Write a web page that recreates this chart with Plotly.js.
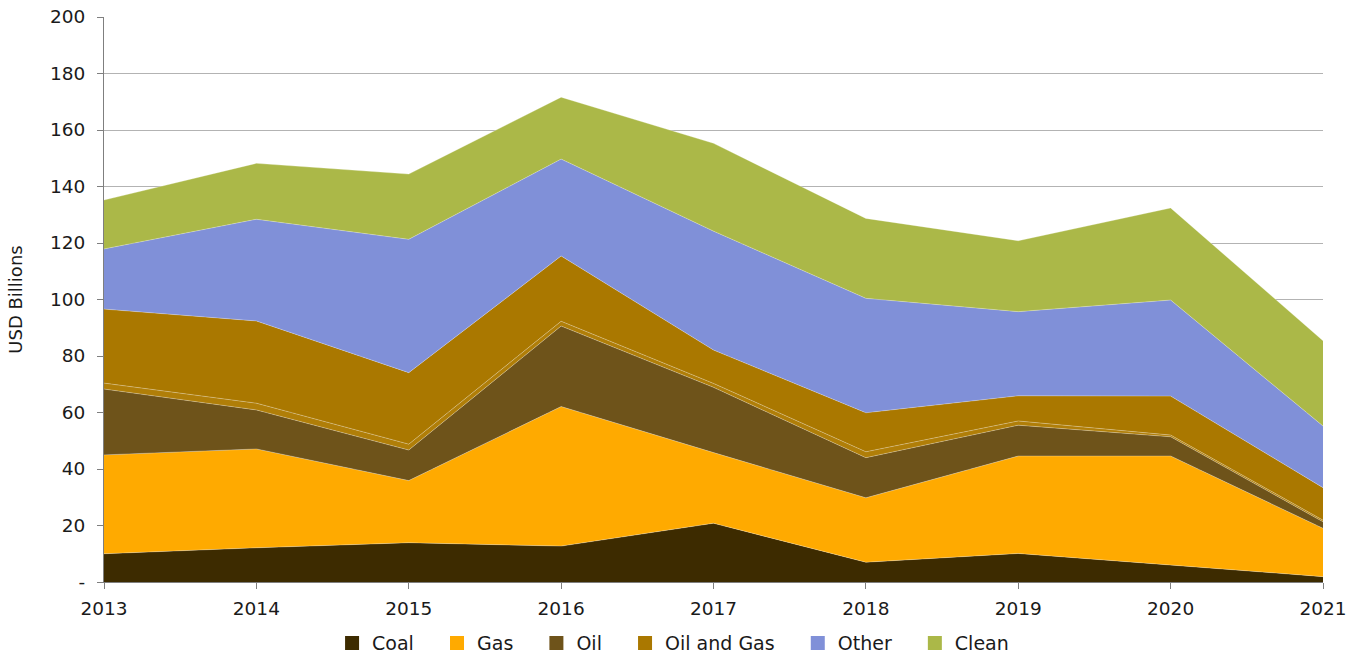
<!DOCTYPE html>
<html>
<head>
<meta charset="utf-8">
<script src="https://cdn.plot.ly/plotly-3.0.1.min.js"></script>
<style>html,body{margin:0;padding:0;background:#fff;}#chart{width:1357px;height:657px;}</style>
</head>
<body>
<div id="chart"></div>
<script>
const years = [2013, 2014, 2015, 2016, 2017, 2018, 2019, 2020, 2021];
const coal = [10.0, 12.1, 13.9, 12.7, 20.8, 7.0, 10.1, 6.0, 1.9];
const gas = [35.0, 35.0, 22.0, 49.4, 25.0, 22.8, 34.5, 38.6, 17.1];
const oil = [23.3, 13.8, 10.8, 28.5, 23.1, 14.2, 10.9, 6.8, 2.3];
const oilGasMinor = [2.1, 2.4, 2.1, 1.7, 1.4, 2.1, 1.5, 0.6, 0.6];
const oilAndGas = [26.2, 29.1, 25.3, 23.1, 11.8, 13.8, 8.9, 13.8, 11.5];
const other = [21.3, 36.0, 47.2, 34.3, 42.1, 40.5, 29.8, 34.0, 21.8];
const clean = [17.3, 19.8, 23.1, 21.9, 31.1, 28.3, 25.1, 32.6, 30.2];

const seriesNames = ['Coal', 'Gas', 'Oil', 'Oil and Gas', 'Other', 'Clean'];
const seriesColors = ['#3D2B00', '#FFAA00', '#6E531A', '#AA7800', '#8090D8', '#ABB848'];

const yTickVals = [0, 20, 40, 60, 80, 100, 120, 140, 160, 180, 200];
const yTickText = ['-', '20', '40', '60', '80', '100', '120', '140', '160', '180', '200'];

const edge = {width: 0.8, color: 'rgba(255,255,255,0.35)'};
function area(name, vals, color) {
  return {
    x: years, y: vals, name: name, type: 'scatter', mode: 'lines',
    stackgroup: 'one', fillcolor: color, line: edge,
    showlegend: false, hoverinfo: 'x+y+name'
  };
}
const traces = [
  area('Coal', coal, seriesColors[0]),
  area('Gas', gas, seriesColors[1]),
  area('Oil', oil, seriesColors[2]),
  area('Oil and Gas (minor)', oilGasMinor, '#B07E08'),
  area('Oil and Gas', oilAndGas, seriesColors[3]),
  area('Other', other, seriesColors[4]),
  area('Clean', clean, seriesColors[5])
];
// legend-only entries with square symbols (padding keeps the wide spacing)
const pad = '\u00a0\u00a0\u00a0';
seriesNames.forEach((n, i) => {
  traces.push({
    x: [null], y: [null], type: 'scatter', mode: 'markers',
    name: i < seriesNames.length - 1 ? n + pad : n,
    marker: {symbol: 'square', size: 14, color: seriesColors[i]},
    showlegend: true, hoverinfo: 'skip'
  });
});

const fam = '"DejaVu Sans", "Open Sans", sans-serif';
const layout = {
  width: 1357, height: 657,
  margin: {l: 104, r: 34, t: 17, b: 75},
  paper_bgcolor: '#fff', plot_bgcolor: '#fff',
  font: {family: fam, size: 18, color: '#1a1a1a'},
  xaxis: {
    range: [2013, 2021], tickvals: years, ticktext: years.map(String),
    showgrid: false, showline: true, linecolor: '#7f7f7f', linewidth: 1,
    ticks: 'outside', ticklen: 6, tickcolor: '#7f7f7f', zeroline: false,
    tickfont: {size: 18.5}, ticklabelstandoff: 4, automargin: false
  },
  yaxis: {
    range: [0, 200], tickvals: yTickVals, ticktext: yTickText,
    showgrid: true, gridcolor: '#b3b3b3', gridwidth: 1,
    showline: true, linecolor: '#7f7f7f', linewidth: 1,
    ticks: 'outside', ticklen: 6, tickcolor: '#7f7f7f', zeroline: false,
    tickfont: {size: 18.5}, ticklabelstandoff: 8, automargin: false,
    title: {text: 'USD Billions', font: {size: 18}, standoff: 22}
  },
  legend: {
    orientation: 'h', xref: 'container', yref: 'container',
    x: 0.496, xanchor: 'center', y: 0.021, yanchor: 'middle',
    traceorder: 'normal', font: {size: 19}, itemwidth: 30
  },
  showlegend: true
};
Plotly.newPlot('chart', traces, layout, {displayModeBar: false, staticPlot: true});
</script>
</body>
</html>
